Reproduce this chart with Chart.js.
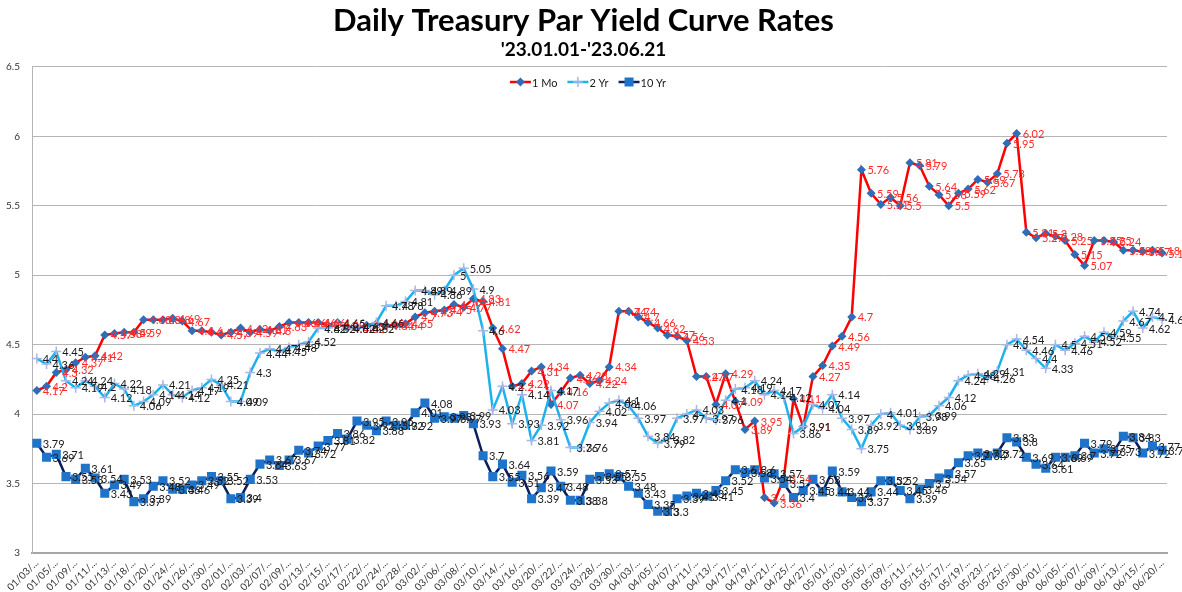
<!DOCTYPE html>
<html><head><meta charset="utf-8">
<script src="https://cdn.jsdelivr.net/npm/chart.js@4.4.1/dist/chart.umd.min.js"></script>
<style>html,body{margin:0;padding:0;background:#fff}#wrap{width:1182px;height:592px;position:relative}</style>
</head><body><div id="wrap"><canvas id="c"></canvas></div>
<script>
const chartTitle = 'Daily Treasury Par Yield Curve Rates';
const chartSubtitle = "'23.01.01-'23.06.21";
const seriesNames = ['1 Mo', '2 Yr', '10 Yr'];
const dates = [
"01/03/2023","01/04/2023","01/05/2023","01/06/2023","01/09/2023","01/10/2023","01/11/2023","01/12/2023","01/13/2023","01/17/2023","01/18/2023","01/19/2023","01/20/2023","01/23/2023","01/24/2023","01/25/2023","01/26/2023","01/27/2023","01/30/2023","01/31/2023",
"02/01/2023","02/02/2023","02/03/2023","02/06/2023","02/07/2023","02/08/2023","02/09/2023","02/10/2023","02/13/2023","02/14/2023","02/15/2023","02/16/2023","02/17/2023","02/21/2023","02/22/2023","02/23/2023","02/24/2023","02/27/2023","02/28/2023",
"03/01/2023","03/02/2023","03/03/2023","03/06/2023","03/07/2023","03/08/2023","03/09/2023","03/10/2023","03/13/2023","03/14/2023","03/15/2023","03/16/2023","03/17/2023","03/20/2023","03/21/2023","03/22/2023","03/23/2023","03/24/2023","03/27/2023","03/28/2023","03/29/2023","03/30/2023","03/31/2023",
"04/03/2023","04/04/2023","04/05/2023","04/06/2023","04/07/2023","04/10/2023","04/11/2023","04/12/2023","04/13/2023","04/14/2023","04/17/2023","04/18/2023","04/19/2023","04/20/2023","04/21/2023","04/24/2023","04/25/2023","04/26/2023","04/27/2023","04/28/2023",
"05/01/2023","05/02/2023","05/03/2023","05/04/2023","05/05/2023","05/08/2023","05/09/2023","05/10/2023","05/11/2023","05/12/2023","05/15/2023","05/16/2023","05/17/2023","05/18/2023","05/19/2023","05/22/2023","05/23/2023","05/24/2023","05/25/2023","05/26/2023","05/30/2023","05/31/2023",
"06/01/2023","06/02/2023","06/05/2023","06/06/2023","06/07/2023","06/08/2023","06/09/2023","06/12/2023","06/13/2023","06/14/2023","06/15/2023","06/16/2023","06/20/2023"
];
const mo1 = [
4.17,4.20,4.30,4.32,4.37,4.41,4.42,4.57,4.58,4.59,4.59,4.68,4.68,4.68,4.69,4.67,4.60,4.60,4.59,4.57,
4.59,4.62,4.59,4.61,4.60,4.63,4.66,4.66,4.66,4.66,4.64,4.66,4.62,4.62,4.64,4.65,4.64,4.64,4.65,
4.70,4.73,4.74,4.75,4.79,4.77,4.83,4.81,4.62,4.47,4.20,4.22,4.31,4.34,4.07,4.16,4.26,4.28,4.22,4.24,4.34,4.74,4.74,
4.70,4.66,4.62,4.57,4.56,4.53,4.27,4.27,4.07,4.29,4.09,3.89,3.95,3.40,3.36,3.54,4.11,3.91,4.27,4.35,
4.49,4.56,4.70,5.76,5.59,5.51,5.56,5.50,5.81,5.79,5.64,5.58,5.50,5.59,5.62,5.69,5.67,5.73,5.95,6.02,5.31,5.27,
5.30,5.28,5.25,5.15,5.07,5.25,5.25,5.24,5.18,5.18,5.17,5.18,5.16
];
const yr2 = [
4.40,4.36,4.45,4.24,4.19,4.24,4.20,4.12,4.22,4.18,4.06,4.09,4.14,4.21,4.14,4.12,4.17,4.19,4.25,4.21,
4.09,4.09,4.30,4.44,4.47,4.45,4.48,4.50,4.52,4.62,4.62,4.65,4.62,4.63,4.62,4.66,4.78,4.78,4.81,
4.89,4.89,4.86,4.89,5.00,5.05,4.90,4.60,4.03,4.20,3.93,4.14,3.81,3.92,4.17,3.96,3.76,3.76,3.94,4.02,4.08,4.10,4.06,
3.97,3.84,3.79,3.82,3.97,4.00,4.03,3.97,3.96,4.10,4.18,4.19,4.24,4.14,4.17,4.12,3.86,3.91,4.07,4.04,
4.14,3.97,3.89,3.75,3.92,4.00,4.01,3.92,3.89,3.98,3.99,4.06,4.12,4.24,4.28,4.29,4.26,4.31,4.50,4.54,4.46,4.40,
4.33,4.50,4.46,4.51,4.56,4.52,4.59,4.55,4.67,4.74,4.62,4.70,4.68
];
const yr10 = [
3.79,3.69,3.71,3.55,3.53,3.61,3.54,3.43,3.49,3.53,3.37,3.39,3.48,3.52,3.46,3.46,3.49,3.52,3.55,3.52,
3.39,3.40,3.53,3.64,3.67,3.63,3.67,3.74,3.72,3.77,3.81,3.86,3.82,3.95,3.92,3.88,3.95,3.92,3.92,
4.01,4.08,3.97,3.98,3.97,3.99,3.93,3.70,3.55,3.64,3.51,3.56,3.39,3.47,3.59,3.48,3.38,3.38,3.53,3.55,3.57,3.55,3.48,
3.43,3.35,3.30,3.30,3.39,3.41,3.43,3.41,3.45,3.52,3.60,3.58,3.60,3.54,3.57,3.50,3.40,3.45,3.53,3.44,
3.59,3.44,3.40,3.37,3.44,3.52,3.52,3.45,3.39,3.46,3.50,3.54,3.57,3.65,3.70,3.72,3.70,3.72,3.83,3.80,3.69,3.64,
3.61,3.69,3.69,3.70,3.79,3.72,3.75,3.73,3.84,3.83,3.72,3.77,3.74
];
const yMin = 3, yMax = 6.5, yStep = 0.5;

const FONT = 'Lato, "Open Sans", sans-serif';
const styles = [
  {line:'#ff0000', marker:'#2e6db8', shape:'diamond', labelColor:'#ff2a2a'},
  {line:'#1db1ee', marker:'#a9b6e6', shape:'plus', labelColor:'#1a1a1a'},
  {line:'#0c1f5c', marker:'#1f74c9', shape:'square', labelColor:'#1a1a1a'}
];

function drawMarker(ctx, shape, x, y, color) {
  ctx.save();
  if (shape === 'diamond') {
    ctx.fillStyle = color; ctx.beginPath();
    ctx.moveTo(x, y-4.5); ctx.lineTo(x+4.5, y); ctx.lineTo(x, y+4.5); ctx.lineTo(x-4.5, y); ctx.closePath(); ctx.fill();
  } else if (shape === 'square') {
    ctx.fillStyle = color; ctx.fillRect(x-4.5, y-4.5, 9, 9);
  } else {
    ctx.strokeStyle = color; ctx.lineWidth = 1.5; ctx.beginPath();
    ctx.moveTo(x-5, y); ctx.lineTo(x+5, y); ctx.moveTo(x, y-5); ctx.lineTo(x, y+5); ctx.stroke();
  }
  ctx.restore();
}

const valueLabels = {
  id: 'valueLabels',
  afterDatasetsDraw(chart) {
    const ctx = chart.ctx;
    ctx.save();
    ctx.font = '11px ' + FONT;
    ctx.textBaseline = 'middle';
    ctx.textAlign = 'left';
    chart.data.datasets.forEach((ds, di) => {
      const meta = chart.getDatasetMeta(di);
      ctx.fillStyle = styles[di].labelColor;
      meta.data.forEach((pt, i) => {
        ctx.fillText(String(ds.data[i]), pt.x + 6, pt.y + 1);
      });
    });
    ctx.restore();
  }
};

const customLegend = {
  id: 'customLegend',
  afterDraw(chart) {
    const ctx = chart.ctx;
    ctx.save();
    ctx.font = '11px ' + FONT;
    ctx.textBaseline = 'middle';
    ctx.textAlign = 'left';
    const lineW = 21, gap1 = 1, gapItem = 10;
    const widths = seriesNames.map(n => lineW + gap1 + ctx.measureText(n).width);
    const total = widths.reduce((a,b)=>a+b,0) + gapItem*(seriesNames.length-1);
    let x = 588 - total/2;
    const y = 82;
    seriesNames.forEach((n, i) => {
      ctx.strokeStyle = styles[i].line; ctx.lineWidth = 2.5;
      ctx.beginPath(); ctx.moveTo(x, y); ctx.lineTo(x+lineW, y); ctx.stroke();
      drawMarker(ctx, styles[i].shape, x+lineW/2, y, styles[i].marker);
      ctx.fillStyle = '#1a1a1a';
      ctx.fillText(n, x+lineW+gap1, y+1);
      x += widths[i] + gapItem;
    });
    ctx.restore();
  }
};

const pointStyleMap = {diamond:'rectRot', square:'rect', plus:'cross'};
const pointRadiusMap = {diamond:4.5, square:6.4, plus:5};
const seriesData = [mo1, yr2, yr10];

new Chart(document.getElementById('c'), {
  type: 'line',
  data: {
    labels: dates,
    datasets: seriesData.map((d, i) => ({
      label: seriesNames[i],
      data: d,
      borderColor: styles[i].line,
      backgroundColor: styles[i].line,
      borderWidth: 2.5,
      tension: 0,
      pointStyle: pointStyleMap[styles[i].shape],
      pointRadius: pointRadiusMap[styles[i].shape],
      pointBackgroundColor: styles[i].marker,
      pointBorderColor: styles[i].marker,
      pointBorderWidth: styles[i].shape === 'plus' ? 1.5 : 0,
      order: 2 - i
    }))
  },
  options: {
    responsive: true,
    maintainAspectRatio: false,
    animation: false,
    layout: {padding: {left: 0, right: 15, top: 0, bottom: 0}},
    plugins: {
      legend: {display: false},
      tooltip: {enabled: false},
      title: {display: true, text: chartTitle, color: '#000',
        font: {family: FONT, size: 31, weight: 'bold', lineHeight: 1.1}, padding: {top: 4, bottom: 0}},
      subtitle: {display: true, text: chartSubtitle, color: '#000',
        font: {family: FONT, size: 19, weight: 'bold', lineHeight: 1.2}, padding: {top: 0, bottom: 6}}
    },
    scales: {
      x: {
        type: 'category',
        offset: true,
        grid: {display: false, drawTicks: false},
        border: {display: true, color: '#a6a6a6', width: 2},
        ticks: {
          autoSkip: false, maxRotation: 45, minRotation: 45, padding: 4,
          color: '#333', font: {family: FONT, size: 10},
          callback: (v, i) => (i % 2 === 0 ? dates[i].slice(0, 6) + '...' : '')
        },
        afterFit: s => { s.height = 39; }
      },
      y: {
        min: yMin, max: yMax,
        grid: {color: '#b5b5b5', lineWidth: 1, drawTicks: false},
        border: {display: true, color: '#b5b5b5', width: 1},
        ticks: {stepSize: yStep, padding: 12, color: '#333', font: {family: FONT, size: 10},
          callback: v => String(+v.toFixed(1))},
        afterFit: s => { s.width = 32; }
      }
    }
  },
  plugins: [valueLabels, customLegend]
});
</script>
</body></html>
